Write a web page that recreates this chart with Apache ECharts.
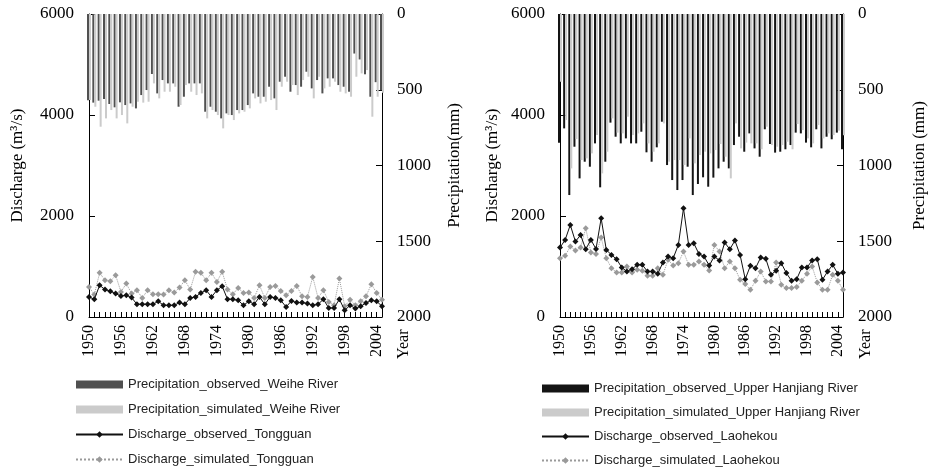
<!DOCTYPE html>
<html lang="en">

<head>
  <meta charset="UTF-8">
  <title>Precipitation and discharge</title>
</head>

<body style="margin:0;background:#fff;">
  <div id="main" style="width: 929px;height:468px;"></div>
  <script src="https://cdn.jsdelivr.net/npm/echarts@6/dist/echarts.min.js"></script>
  <script>
    // years 1950 - 2005
    const years = [];
    for (let y = 1950; y <= 2005; y++) years.push(String(y));

    // Weihe River / Tongguan (left panel)
    const weiheObsPrecip = [570, 585, 572, 561, 594, 616, 583, 601, 590, 623, 535, 502, 396, 524, 436, 458, 458, 612, 546, 458,
      458, 458, 645, 612, 645, 689, 656, 667, 634, 634, 601, 524, 546, 546, 480, 557, 447, 414, 513, 469,
      480, 381, 491, 436, 524, 425, 425, 469, 480, 513, 261, 300, 398, 546, 450, 504];
    const weiheSimPrecip = [568, 612, 744, 689, 634, 689, 667, 722, 612, 579, 585, 579, 458, 557, 513, 513, 480, 601, 469, 513,
      535, 524, 689, 634, 667, 755, 667, 700, 656, 645, 623, 557, 590, 579, 568, 634, 480, 447, 469, 535,
      436, 414, 557, 414, 491, 480, 447, 513, 524, 546, 414, 392, 370, 678, 546, 520];
    const tongguanObsQ = [397, 351, 629, 543, 510, 463, 417, 430, 384, 252, 252, 252, 252, 311, 232, 232, 232, 285, 252, 377,
      397, 477, 530, 397, 530, 609, 351, 351, 331, 232, 311, 252, 397, 252, 397, 377, 331, 199, 318, 285,
      285, 265, 232, 252, 351, 179, 179, 351, 132, 232, 166, 212, 278, 331, 311, 212];
    const tongguanSimQ = [596, 444, 874, 728, 708, 828, 497, 662, 463, 530, 377, 530, 450, 450, 444, 530, 483, 583, 728, 543,
      894, 874, 728, 874, 695, 894, 543, 450, 576, 477, 483, 377, 629, 377, 596, 616, 516, 430, 516, 616,
      410, 397, 794, 377, 530, 298, 232, 761, 212, 344, 232, 311, 410, 649, 477, 344];

    // Upper Hanjiang River / Laohekou (right panel)
    const hanjiangObsPrecip = [850, 755, 1195, 876, 1085, 975, 1008, 854, 1144, 975, 717, 810, 854, 821, 854, 854, 777, 913, 975, 880,
      711, 997, 1096, 1162, 1096, 1008, 1195, 1122, 1078, 1140, 1080, 1019, 975, 1019, 865, 810, 909, 788, 887, 942,
      761, 858, 915, 909, 893, 865, 783, 788, 849, 880, 761, 887, 810, 827, 783, 893];
    const hanjiangSimPrecip = [447, 700, 1019, 825, 964, 953, 920, 799, 1052, 909, 689, 783, 788, 678, 799, 788, 722, 854, 909, 854,
      722, 975, 964, 964, 997, 821, 986, 931, 909, 920, 898, 858, 942, 1085, 722, 887, 849, 854, 854, 893,
      744, 865, 876, 865, 843, 893, 726, 766, 821, 854, 733, 821, 788, 799, 770, 800];
    const laohekouObsQ = [1375, 1527, 1823, 1494, 1625, 1342, 1527, 1349, 1954, 1329, 1230, 1145, 980, 901, 948, 1033, 1033, 901, 901, 855,
      1079, 1198, 1165, 1428, 2152, 1428, 1461, 1250, 1198, 1020, 1198, 1119, 1474, 1342, 1513, 1230, 750, 1013, 967, 1178,
      1152, 836, 915, 1066, 869, 717, 750, 980, 980, 1119, 1145, 737, 901, 1033, 855, 882];
    const laohekouSimQ = [1165, 1211, 1395, 1316, 1375, 1757, 1277, 1250, 1573, 1165, 967, 882, 882, 1000, 882, 934, 915, 816, 816, 967,
      836, 1132, 1020, 1066, 1296, 1033, 1033, 1099, 1033, 921, 1428, 1296, 967, 1099, 967, 737, 651, 540, 717, 901,
      704, 704, 1079, 638, 572, 572, 592, 717, 855, 1000, 684, 540, 540, 836, 717, 540];

    const serif = 'Liberation Serif';
    const sans = 'Liberation Sans';
    const plain = (v) => String(v);

    const xAxisOf = (gridIndex) => ({
      type: 'category',
      gridIndex: gridIndex,
      data: years,
      boundaryGap: false,
      axisLine: { lineStyle: { color: '#000', width: 1 } },
      axisTick: { inside: true, length: 5, interval: 0, lineStyle: { color: '#000' } },
      axisLabel: { interval: 5, rotate: 90, margin: 8, color: '#000', fontFamily: serif, fontSize: 16 },
      splitLine: { show: false }
    });

    const qAxisOf = (gridIndex, gap) => ({
      type: 'value',
      gridIndex: gridIndex,
      min: 0,
      max: 6000,
      interval: 2000,
      position: 'left',
      name: 'Discharge (m³/s)',
      nameLocation: 'middle',
      nameGap: gap,
      nameTextStyle: { color: '#000', fontFamily: serif, fontSize: 17 },
      axisLine: { show: true, lineStyle: { color: '#000' } },
      axisTick: { show: true, inside: true, length: 6, lineStyle: { color: '#000' } },
      axisLabel: { margin: 15, color: '#000', fontFamily: serif, fontSize: 17, formatter: plain },
      splitLine: { show: false }
    });

    const pAxisOf = (gridIndex, name, gap) => ({
      type: 'value',
      gridIndex: gridIndex,
      min: 0,
      max: 2000,
      interval: 500,
      inverse: true,
      position: 'right',
      name: name,
      nameLocation: 'middle',
      nameGap: gap,
      nameTextStyle: { color: '#000', fontFamily: serif, fontSize: 17, padding: [0, 0, 12, 0] },
      axisLine: { show: true, lineStyle: { color: '#000' } },
      axisTick: { show: true, inside: true, length: 6, lineStyle: { color: '#000' } },
      axisLabel: { margin: 15, color: '#000', fontFamily: serif, fontSize: 17, formatter: plain },
      splitLine: { show: false }
    });

    const barOf = (name, data, idx, color) => ({
      name: name,
      type: 'bar',
      xAxisIndex: idx,
      yAxisIndex: idx * 2 + 1,
      data: data,
      barWidth: 2,
      barGap: '0%',
      itemStyle: { color: color },
      z: 1
    });

    const lineOf = (name, data, idx, color, dotted) => ({
      name: name,
      type: 'line',
      xAxisIndex: idx,
      yAxisIndex: idx * 2,
      data: data,
      symbol: 'diamond',
      symbolSize: 6,
      showSymbol: true,
      showAllSymbol: true,
      lineStyle: { color: color, width: 1, type: dotted ? 'dotted' : 'solid' },
      itemStyle: { color: color },
      z: dotted ? 3 : 4
    });

    const legendOf = (names, left, top, gap) => ({
      orient: 'vertical',
      left: left,
      top: top,
      itemWidth: 47,
      itemHeight: 8,
      itemGap: gap,
      padding: 0,
      textStyle: { color: '#222', fontFamily: sans, fontSize: 13 },
      data: [
        { name: names[0], icon: 'rect' },
        { name: names[1], icon: 'rect' },
        { name: names[2] },
        { name: names[3] }
      ]
    });

    const leftNames = ['Precipitation_observed_Weihe River', 'Precipitation_simulated_Weihe River',
      'Discharge_observed_Tongguan', 'Discharge_simulated_Tongguan'];
    const rightNames = ['Precipitation_observed_Upper Hanjiang River', 'Precipitation_simulated_Upper Hanjiang River',
      'Discharge_observed_Laohekou', 'Discharge_simulated_Laohekou'];

    const myChart = echarts.init(document.getElementById('main'));

    const option = {
      backgroundColor: '#fff',
      animation: false,
      grid: [
        { left: 89, top: 14, width: 293, height: 303 },
        { left: 560, top: 14, width: 285, height: 303 }
      ],
      xAxis: [xAxisOf(0), xAxisOf(1)],
      yAxis: [
        qAxisOf(0, 63),
        pAxisOf(0, 'Precipitation(mm)', 64),
        qAxisOf(1, 59),
        pAxisOf(1, 'Precipitation (mm)', 68)
      ],
      legend: [
        legendOf(leftNames, 75, 378, 12),
        legendOf(rightNames, 541, 382, 11)
      ],
      graphic: [
        { type: 'text', x: 404, y: 359, rotation: Math.PI / 2,
          style: { text: 'Year', fill: '#000', font: '16px "Liberation Serif"', align: 'left', verticalAlign: 'middle' } },
        { type: 'text', x: 866, y: 359, rotation: Math.PI / 2,
          style: { text: 'Year', fill: '#000', font: '16px "Liberation Serif"', align: 'left', verticalAlign: 'middle' } }
      ],
      series: [
        barOf(leftNames[0], weiheObsPrecip, 0, '#505050'),
        barOf(leftNames[1], weiheSimPrecip, 0, '#cbcbcb'),
        lineOf(leftNames[2], tongguanObsQ, 0, '#111', false),
        lineOf(leftNames[3], tongguanSimQ, 0, '#9a9a9a', true),
        barOf(rightNames[0], hanjiangObsPrecip, 1, '#141414'),
        barOf(rightNames[1], hanjiangSimPrecip, 1, '#cbcbcb'),
        lineOf(rightNames[2], laohekouObsQ, 1, '#111', false),
        lineOf(rightNames[3], laohekouSimQ, 1, '#9a9a9a', true)
      ]
    };

    myChart.setOption(option);
  </script>
</body>

</html>
